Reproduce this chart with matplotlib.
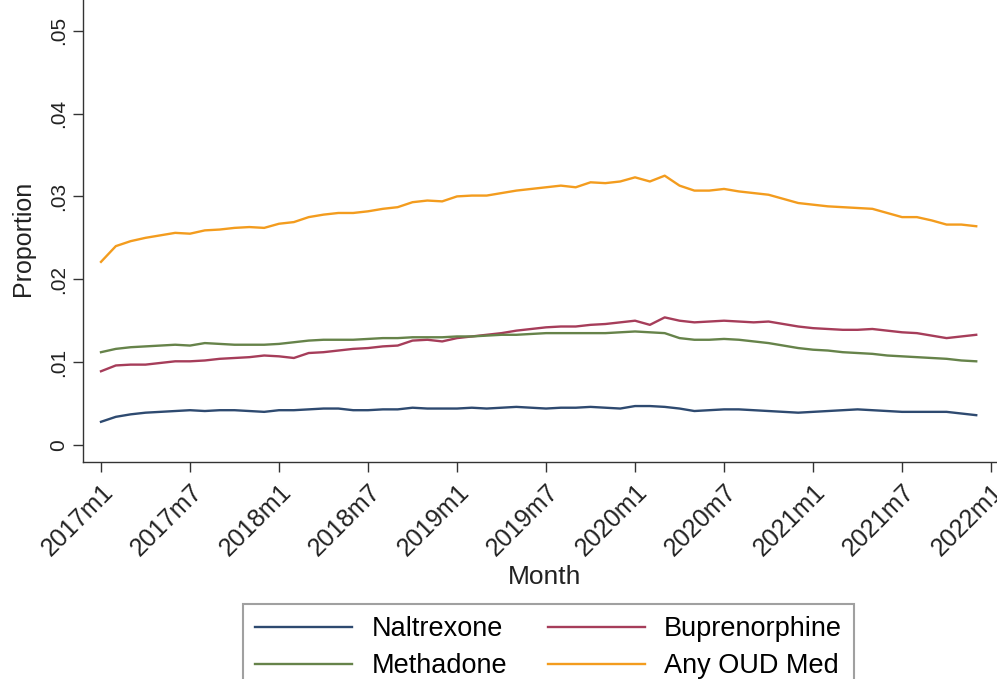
import numpy as np
import matplotlib
matplotlib.use("Agg")
import matplotlib.pyplot as plt

plt.rcParams['font.family'] = ['Liberation Sans', 'DejaVu Sans']

# months 2017m1 .. 2021m12
months = [f"{y}m{m}" for y in range(2017, 2022) for m in range(1, 13)]

naltrexone = [
    0.0028, 0.0034, 0.0037, 0.0039, 0.0040, 0.0041, 0.0042, 0.0041, 0.0042, 0.0042,
    0.0041, 0.0040, 0.0042, 0.0042, 0.0043, 0.0044, 0.0044, 0.0042, 0.0042, 0.0043,
    0.0043, 0.0045, 0.0044, 0.0044, 0.0044, 0.0045, 0.0044, 0.0045, 0.0046, 0.0045,
    0.0044, 0.0045, 0.0045, 0.0046, 0.0045, 0.0044, 0.0047, 0.0047, 0.0046, 0.0044,
    0.0041, 0.0042, 0.0043, 0.0043, 0.0042, 0.0041, 0.0040, 0.0039, 0.0040, 0.0041,
    0.0042, 0.0043, 0.0042, 0.0041, 0.0040, 0.0040, 0.0040, 0.0040, 0.0038, 0.0036,
]

buprenorphine = [
    0.0089, 0.0096, 0.0097, 0.0097, 0.0099, 0.0101, 0.0101, 0.0102, 0.0104, 0.0105,
    0.0106, 0.0108, 0.0107, 0.0105, 0.0111, 0.0112, 0.0114, 0.0116, 0.0117, 0.0119,
    0.0120, 0.0126, 0.0127, 0.0125, 0.0129, 0.0131, 0.0133, 0.0135, 0.0138, 0.0140,
    0.0142, 0.0143, 0.0143, 0.0145, 0.0146, 0.0148, 0.0150, 0.0145, 0.0154, 0.0150,
    0.0148, 0.0149, 0.0150, 0.0149, 0.0148, 0.0149, 0.0146, 0.0143, 0.0141, 0.0140,
    0.0139, 0.0139, 0.0140, 0.0138, 0.0136, 0.0135, 0.0132, 0.0129, 0.0131, 0.0133,
]

methadone = [
    0.0112, 0.0116, 0.0118, 0.0119, 0.0120, 0.0121, 0.0120, 0.0123, 0.0122, 0.0121,
    0.0121, 0.0121, 0.0122, 0.0124, 0.0126, 0.0127, 0.0127, 0.0127, 0.0128, 0.0129,
    0.0129, 0.0130, 0.0130, 0.0130, 0.0131, 0.0131, 0.0132, 0.0133, 0.0133, 0.0134,
    0.0135, 0.0135, 0.0135, 0.0135, 0.0135, 0.0136, 0.0137, 0.0136, 0.0135, 0.0129,
    0.0127, 0.0127, 0.0128, 0.0127, 0.0125, 0.0123, 0.0120, 0.0117, 0.0115, 0.0114,
    0.0112, 0.0111, 0.0110, 0.0108, 0.0107, 0.0106, 0.0105, 0.0104, 0.0102, 0.0101,
]

any_oud = [
    0.0221, 0.0240, 0.0246, 0.0250, 0.0253, 0.0256, 0.0255, 0.0259, 0.0260, 0.0262,
    0.0263, 0.0262, 0.0267, 0.0269, 0.0275, 0.0278, 0.0280, 0.0280, 0.0282, 0.0285,
    0.0287, 0.0293, 0.0295, 0.0294, 0.0300, 0.0301, 0.0301, 0.0304, 0.0307, 0.0309,
    0.0311, 0.0313, 0.0311, 0.0317, 0.0316, 0.0318, 0.0323, 0.0318, 0.0325, 0.0313,
    0.0307, 0.0307, 0.0309, 0.0306, 0.0304, 0.0302, 0.0297, 0.0292, 0.0290, 0.0288,
    0.0287, 0.0286, 0.0285, 0.0280, 0.0275, 0.0275, 0.0271, 0.0266, 0.0266, 0.0264,
]

x_ticklabels = [f"{y}m{m}" for y in range(2017, 2023) for m in (1, 7)][:11]
y_ticks = [0, 0.01, 0.02, 0.03, 0.04, 0.05]
y_ticklabels = ["0", ".01", ".02", ".03", ".04", ".05"]

fig = plt.figure(figsize=(9.97, 6.79), dpi=100)
ax = fig.add_axes([0.0833, 0.3196, 0.9167, 0.6804])

x = np.arange(len(months))
ax.plot(x, naltrexone, color='#2e4a70', lw=1.7, label='Naltrexone')
ax.plot(x, buprenorphine, color='#a63d5a', lw=1.7, label='Buprenorphine')
ax.plot(x, methadone, color='#66834a', lw=1.7, label='Methadone')
ax.plot(x, any_oud, color='#f39c1e', lw=1.7, label='Any OUD Med')

ax.set_xlim(-1.21, 60.4)
ax.set_ylim(-0.00205, 0.0537)

ax.set_xticks(np.arange(0, 61, 6))
ax.set_xticklabels(x_ticklabels, rotation=45, ha='right', va='top',
                   rotation_mode='anchor', fontsize=18)
ax.set_yticks(y_ticks)
ax.set_yticklabels(y_ticklabels, rotation=90, va='center', fontsize=15)

ax.spines['top'].set_visible(False)
ax.spines['right'].set_visible(False)
for s in ('left', 'bottom'):
    ax.spines[s].set_color('#333333')
    ax.spines[s].set_linewidth(1.0)
ax.tick_params(length=7, width=1.0, color='#333333', labelcolor='#222222', pad=4)
ax.tick_params(axis='x', pad=6)

ax.set_xlabel('Month', fontsize=19, color='#222222')
ax.xaxis.set_label_coords(0.505, -0.222)
ax.set_ylabel('Proportion', fontsize=18, color='#222222')
ax.yaxis.set_label_coords(-0.053, 0.485)

handles, labels = ax.get_legend_handles_labels()
order = [0, 2, 1, 3]
leg = fig.legend([handles[i] for i in order], [labels[i] for i in order],
                 loc='upper center', bbox_to_anchor=(548.5 / 997, 1 - 604 / 679),
                 ncol=2, fontsize=19.5, frameon=True, fancybox=False,
                 handlelength=3.6, handletextpad=0.7, columnspacing=1.5,
                 labelspacing=0.4, borderpad=0.45, borderaxespad=0)
leg.get_frame().set_edgecolor('#888888')
leg.get_frame().set_linewidth(1.5)

fig.savefig('out.png', dpi=100)
